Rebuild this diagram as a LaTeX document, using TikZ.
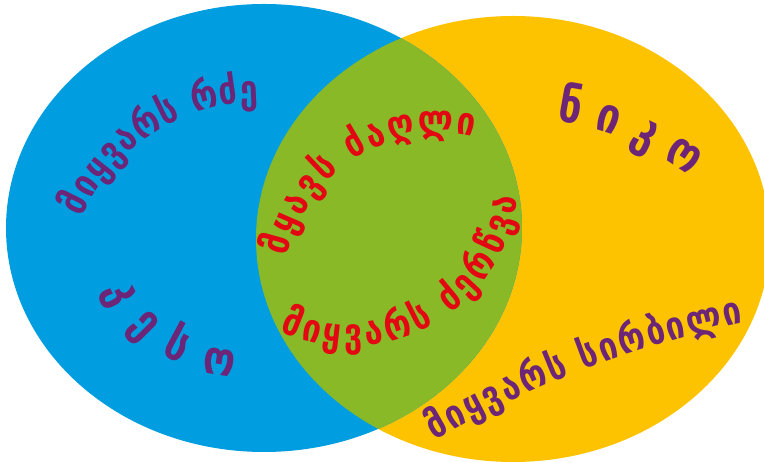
\documentclass[tikz,border=0pt]{standalone}
\usepackage{fontspec}
\setmainfont{DejaVu Sans}
\newfontfamily\geo{DejaVu Sans}[FakeStretch=0.84]
\usetikzlibrary{decorations.text}
\definecolor{vblue}{RGB}{0,158,224}
\definecolor{vyellow}{RGB}{253,195,0}
\definecolor{vgreen}{RGB}{137,185,39}
\definecolor{vpurple}{RGB}{108,37,119}
\definecolor{vred}{RGB}{227,6,19}
\tikzset{
  arctext/.style={decorate, decoration={text along path, text align={fit to path}, raise=#1}}
}
\begin{document}
\begin{tikzpicture}[x=1pt,y=1pt]
\useasboundingbox (0,0) rectangle (764,462);
\clip (0,0) rectangle (764,462);
% sets
\fill[vyellow] (513,223) ellipse[x radius=257, y radius=223];
\fill[vblue] (264,234) ellipse[x radius=258, y radius=224];
\begin{scope}
  \clip (264,234) ellipse[x radius=258, y radius=224];
  \fill[vgreen] (513,223) ellipse[x radius=257, y radius=223];
\end{scope}
% centres of the text arcs
\coordinate (c1) at (258,167);
\coordinate (c2) at (240,232);
\coordinate (c3) at (517,57);
\coordinate (c4) at (440,172);
\coordinate (c5) at (350,284);
\coordinate (c6) at (953,-873);
% texts
\path[arctext=-10.5pt, decoration={text={|\color{vpurple}\geo\bfseries\fontsize{39}{39}\selectfont|მიყვარს რძე}}]
  ([shift={(156:203)}]c1) arc[start angle=156, end angle=90, radius=203];
\path[arctext=-12.5pt, decoration={text={|\color{vpurple}\geo\bfseries\fontsize{47}{47}\selectfont|კესო}}]
  ([shift={(203:134)}]c2) arc[start angle=203, end angle=268, radius=134];
\path[arctext=-13pt, decoration={text={|\color{vpurple}\geo\bfseries\fontsize{49}{49}\selectfont|ნიკო}}]
  ([shift={(82:300)}]c3) arc[start angle=82, end angle=53, radius=300];
\path[arctext=-10.5pt, decoration={text={|\color{vpurple}\geo\bfseries\fontsize{39}{39}\selectfont|მიყვარს სირბილი}}]
  ([shift={(120.1:1044)}]c6) arc[start angle=120.1, end angle=101.7, radius=1044];
\path[arctext=-10.5pt, decoration={text={|\color{vred}\geo\bfseries\fontsize{39}{39}\selectfont|მყავს ძაღლი}}]
  ([shift={(167.6:167)}]c4) arc[start angle=167.6, end angle=77.8, radius=167];
\path[arctext=-10.5pt, decoration={text={|\color{vred}\geo\bfseries\fontsize{39}{39}\selectfont|მიყვარს ძერწვა}}]
  ([shift={(245:158)}]c5) arc[start angle=245, end angle=353.5, radius=158];
\end{tikzpicture}
\end{document}
